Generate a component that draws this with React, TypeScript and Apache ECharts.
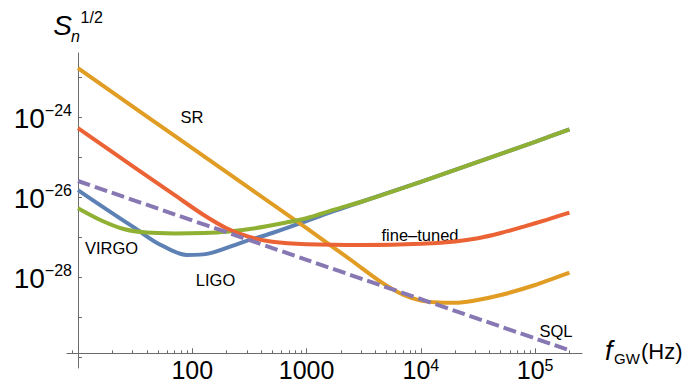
import React, { useEffect, useRef } from 'react';
import * as echarts from 'echarts';

const FONT = '"Liberation Sans", Arial, Helvetica, sans-serif';

// x = log10(f / Hz), y = log10(S_n^{1/2})
const ligoLogF = [1, 1.25, 1.5, 1.7, 1.95, 2.15, 2.45, 2.7, 3.0, 3.25, 3.5, 4.0, 4.5, 5.0, 5.3];
const ligoLogS = [-25.83, -26.31, -26.78, -27.16, -27.45, -27.41, -27.12, -26.9, -26.6, -26.34, -26.1, -25.62, -25.12, -24.62, -24.31];

const srLogF = [1, 2, 3, 3.4, 3.65, 3.85, 4.0, 4.15, 4.3, 4.45, 4.7, 5.0, 5.3];
const srLogS = [-22.78, -24.78, -26.78, -27.6, -28.12, -28.45, -28.59, -28.64, -28.645, -28.6, -28.45, -28.2, -27.89];

const virgoLogF = [1, 1.2, 1.4, 1.6, 1.85, 2.1, 2.3, 2.55, 2.8, 3.0, 3.25, 3.5, 4.0, 4.5, 5.0, 5.3];
const virgoLogS = [-26.28, -26.58, -26.8, -26.89, -26.91, -26.9, -26.87, -26.78, -26.65, -26.53, -26.31, -26.1, -25.62, -25.12, -24.62, -24.31];

const fineLogF = [1, 1.5, 1.85, 2.1, 2.3, 2.5, 2.7, 3.0, 3.5, 4.0, 4.3, 4.5, 4.7, 4.9, 5.1, 5.3];
const fineLogS = [-24.28, -25.27, -25.96, -26.45, -26.78, -27.0, -27.12, -27.18, -27.2, -27.17, -27.11, -27.03, -26.9, -26.74, -26.57, -26.39];

const sqlLogF = [1, 3, 5.3];
const sqlLogS = [-25.6, -27.57, -29.83];

// ticks
const xMajorTicks = [1, 2, 3, 4, 5];
const xLabelTicks = [2, 3, 4, 5];
const xTickLabels = ['{b|100}', '{b|1000}', '{b|10}{s|4}', '{b|10}{s|5}'];
const xMinorFreqs = [9, 20, 30, 40, 50, 60, 70, 80, 90, 200, 300, 400, 500, 600, 700, 800, 900,
  2000, 3000, 4000, 5000, 6000, 7000, 8000, 9000, 20000, 30000, 40000, 50000, 60000, 70000, 80000, 90000, 200000];
const yTicks = [-30, -29, -28, -27, -26, -25, -24, -23];
const yLabelTicks = [-28, -26, -24];
const yTickLabels = ['{b|10}{s|−28}', '{b|10}{s|−26}', '{b|10}{s|−24}'];

const X_MIN = 0.904;
const X_MAX = 5.41;
const Y_MIN = -30.275;
const Y_MAX = -22.4;

const AX = '#6b6b6b';

const zip = (xs: number[], ys: number[]) => xs.map((x, i) => [x, ys[i]]);

const lineSeries = (name: string, xs: number[], ys: number[], color: string, dashed = false) => ({
  type: 'line',
  name,
  data: zip(xs, ys),
  showSymbol: false,
  symbol: 'none',
  smooth: 0.3,
  lineStyle: { color, width: 4, type: dashed ? [13, 5] : 'solid' },
  z: 3,
  silent: true,
});

const txt = (text: string, x: number, y: number, size: number, italic = false, align = 'center') => ({
  type: 'text',
  x,
  y,
  style: {
    text,
    fontSize: size,
    fontFamily: FONT,
    fontStyle: italic ? 'italic' : 'normal',
    fill: '#000',
    align,
    verticalAlign: 'middle',
    textAlign: align,
    textVerticalAlign: 'middle',
  },
});

export default function App() {
  const ref = useRef<HTMLDivElement>(null);
  useEffect(() => {
    if (!ref.current) return;
    const chart = echarts.init(ref.current, undefined, { renderer: 'svg' });
    const xMinor = xMinorFreqs.map((f) => Math.log10(f));
    const option: any = {
      animation: false,
      backgroundColor: '#fff',
      grid: { left: 67, right: 101, top: 53, bottom: 15, containLabel: false, outerBoundsMode: 'none' },
      xAxis: [
        {
          type: 'value', min: X_MIN, max: X_MAX, position: 'bottom', offset: -14.7,
          axisLine: { show: true, onZero: false, lineStyle: { color: AX, width: 1 } },
          axisTick: { show: true, inside: true, length: 5, customValues: xMajorTicks, lineStyle: { color: AX, width: 1 } },
          axisLabel: {
            show: true, customValues: xLabelTicks, margin: 4,
            formatter: (v: number) => xTickLabels[xLabelTicks.indexOf(Math.round(v))] || '',
            rich: {
              b: { fontSize: 25, fontFamily: FONT, color: '#000', lineHeight: 25, verticalAlign: 'bottom' },
              s: { fontSize: 16, fontFamily: FONT, color: '#000', lineHeight: 13, verticalAlign: 'top' },
            },
          },
          splitLine: { show: false },
        },
        {
          type: 'value', min: X_MIN, max: X_MAX, position: 'bottom', offset: -14.7,
          axisLine: { show: false, onZero: false },
          axisTick: { show: true, inside: true, length: 3, customValues: xMinor, lineStyle: { color: AX, width: 1 } },
          axisLabel: { show: false },
          splitLine: { show: false },
        },
      ],
      yAxis: {
        type: 'value', min: Y_MIN, max: Y_MAX, position: 'left', offset: -11,
        axisLine: { show: true, onZero: false, lineStyle: { color: AX, width: 1 } },
        axisTick: { show: true, inside: true, length: 4, customValues: yTicks, lineStyle: { color: AX, width: 1 } },
        axisLabel: {
          show: true, customValues: yLabelTicks, margin: 6,
          formatter: (v: number) => yTickLabels[yLabelTicks.indexOf(Math.round(v))] || '',
          rich: {
            b: { fontSize: 28, fontFamily: FONT, color: '#000', lineHeight: 30, verticalAlign: 'bottom' },
            s: { fontSize: 16, fontFamily: FONT, color: '#000', lineHeight: 16, verticalAlign: 'top' },
          },
        },
        splitLine: { show: false },
      },
      series: [
        lineSeries('LIGO', ligoLogF, ligoLogS, '#5E81B5'),
        lineSeries('SR', srLogF, srLogS, '#E19C24'),
        lineSeries('VIRGO', virgoLogF, virgoLogS, '#8FB032'),
        lineSeries('fine–tuned', fineLogF, fineLogS, '#EB6235'),
        lineSeries('SQL', sqlLogF, sqlLogS, '#8778B3', true),
      ],
      graphic: [
        txt('S', 62.5, 25, 28, true),
        txt('n', 75.5, 36, 16, true),
        txt('1/2', 91.7, 17.5, 16),
        txt('f', 605, 351, 27, true, 'left'),
        txt('GW', 614, 358, 15, false, 'left'),
        txt('(Hz)', 641, 351, 22, false, 'left'),
        txt('SR', 192, 117, 16.5),
        txt('VIRGO', 111.5, 248.3, 16.5),
        txt('LIGO', 215.5, 280, 16.5),
        txt('fine–tuned', 420, 234.5, 16.5),
        txt('SQL', 556, 330.5, 16.5),
      ],
    };
    chart.setOption(option);
    return () => chart.dispose();
  }, []);
  return <div ref={ref} style={{ position: 'absolute', left: 0, top: 0, width: 683, height: 383 }} />;
}
